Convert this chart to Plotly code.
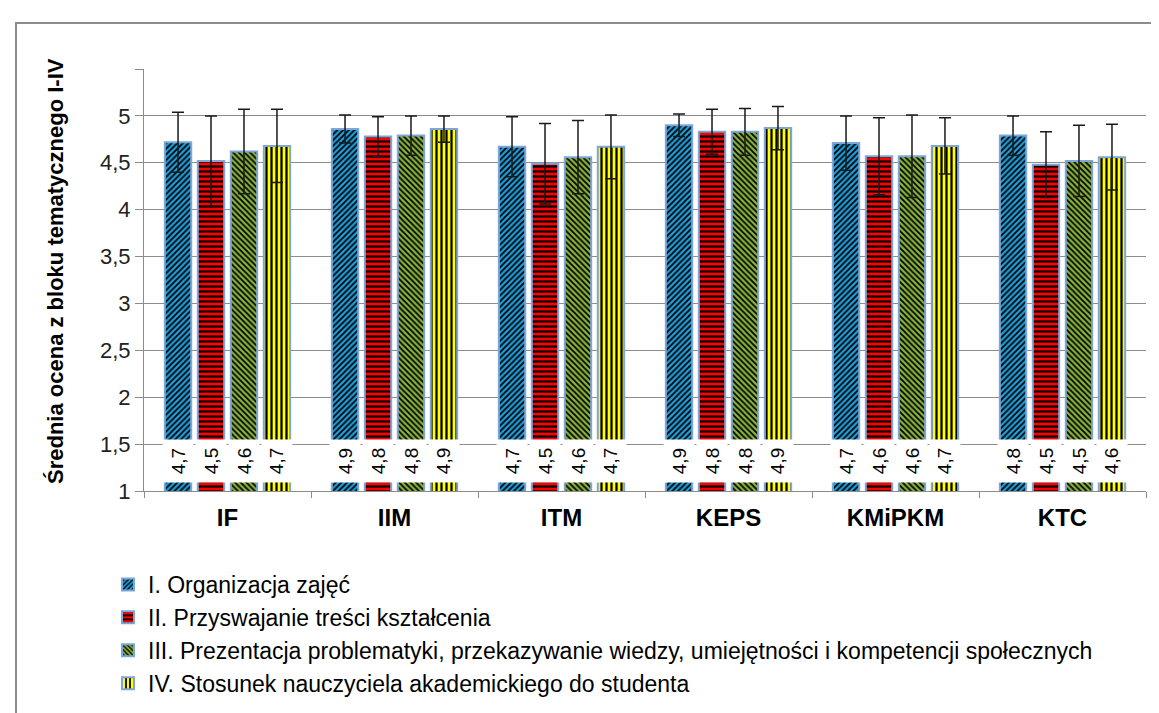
import plotly.graph_objects as go

categories = ["IF", "IIM", "ITM", "KEPS", "KMiPKM", "KTC"]

series_names = [
    "I. Organizacja zajęć",
    "II. Przyswajanie treści kształcenia",
    "III. Prezentacja problematyki, przekazywanie wiedzy, umiejętności i kompetencji społecznych",
    "IV. Stosunek nauczyciela akademickiego do studenta",
]

s1_values = [4.72, 4.86, 4.67, 4.90, 4.71, 4.79]
s2_values = [4.52, 4.78, 4.49, 4.83, 4.57, 4.48]
s3_values = [4.62, 4.79, 4.56, 4.83, 4.57, 4.52]
s4_values = [4.68, 4.86, 4.67, 4.87, 4.68, 4.56]

s1_err = [0.32, 0.15, 0.32, 0.12, 0.29, 0.21]
s2_err = [0.48, 0.21, 0.43, 0.24, 0.41, 0.35]
s3_err = [0.45, 0.21, 0.39, 0.25, 0.44, 0.38]
s4_err = [0.39, 0.14, 0.34, 0.23, 0.30, 0.35]

tick_vals = [1, 1.5, 2, 2.5, 3, 3.5, 4, 4.5, 5, 5.5]
tick_text = ["1", "1,5", "2", "2,5", "3", "3,5", "4", "4,5", "5", ""]

y_title = "Średnia ocena z bloku tematycznego I-IV"

values = [s1_values, s2_values, s3_values, s4_values]
errors = [s1_err, s2_err, s3_err, s4_err]
colors = ["#1E9FDB", "#FF0000", "#8AB43C", "#FFFF00"]
shapes_p = ["/", "-", "\\", "|"]
sizes_p = [4, 5, 4, 5]

BARGAP = 0.21
GROUPGAP = 0.2

fig = go.Figure()
for i in range(4):
    fig.add_trace(go.Bar(
        name=series_names[i],
        x=categories,
        y=values[i],
        marker=dict(
            color=colors[i],
            line=dict(color="#7EA6D8", width=2),
            pattern=dict(shape=shapes_p[i], fgcolor="black", bgcolor=colors[i],
                         size=sizes_p[i], solidity=0.45, fillmode="replace"),
        ),
        error_y=dict(type="data", array=errors[i], visible=True,
                     color="#1a1a1a", thickness=1.5, width=6),
    ))

# value labels in white boxes near the bar base
W, H = 1159, 713
ml, mr, mt, mb = 136, 21, 61, 230
plot_w = W - ml - mr
plot_h = H - mt - mb
cat_w = plot_w / len(categories)
slot = cat_w * (1 - BARGAP) / 4
for i in range(4):
    for j, c in enumerate(categories):
        v = values[i][j]
        txt = ("%.1f" % v).replace(".", ",")
        fig.add_annotation(
            x=c, y=1.32, xref="x", yref="y",
            text=txt, textangle=-90, showarrow=False,
            xshift=(i - 1.5) * slot,
            bgcolor="white", width=42, height=30, borderpad=0,
            font=dict(family="Liberation Sans, Arial", size=19, color="black"),
            yanchor="middle", xanchor="center",
        )

# y-axis title
fig.add_annotation(
    x=(47 - ml) / plot_w, y=(H - mb - 263) / plot_h, xref="paper", yref="paper",
    text=y_title, textangle=-90, showarrow=False,
    xanchor="center", yanchor="middle",
    font=dict(family="Liberation Sans, Arial", size=22, color="black", weight="bold"),
)

# outer frame
fig.add_shape(type="rect", xref="paper", yref="paper",
              x0=(8 - ml) / plot_w, x1=(1158 - ml) / plot_w,
              y0=-0.7, y1=(H - mb - 15) / plot_h,
              line=dict(color="#8C8C8C", width=2), layer="below")

fig.update_layout(
    width=W, height=H,
    margin=dict(l=ml, r=mr, t=mt, b=mb),
    paper_bgcolor="white", plot_bgcolor="white",
    barmode="group", bargap=BARGAP, bargroupgap=GROUPGAP,
    separators=", ",
    font=dict(family="Liberation Sans, Arial", color="black"),
    showlegend=True,
    legend=dict(
        x=(100 - ml) / plot_w, y=(H - mb - 555) / plot_h,
        xanchor="left", yanchor="top",
        font=dict(family="Liberation Sans, Arial", size=23, color="black"),
        bgcolor="rgba(0,0,0,0)",
    ),
    xaxis=dict(
        showline=True, linecolor="#8C8C8C", linewidth=1,
        ticks="outside", tickson="boundaries", ticklen=6, tickcolor="#8C8C8C",
        ticklabelstandoff=5,
        tickfont=dict(family="Liberation Sans, Arial", size=24, color="black", weight="bold"),
        showgrid=False,
    ),
    yaxis=dict(
        range=[1, 5.5], tickvals=tick_vals, ticktext=tick_text,
        showline=True, linecolor="#8C8C8C", linewidth=1,
        ticks="outside", ticklen=8, tickcolor="#8C8C8C",
        showgrid=True, gridcolor="#8C8C8C", gridwidth=1,
        zeroline=False,
        tickfont=dict(family="Liberation Sans, Arial", size=22, color="#222222"),
    ),
)

fig.write_html("out.html")
